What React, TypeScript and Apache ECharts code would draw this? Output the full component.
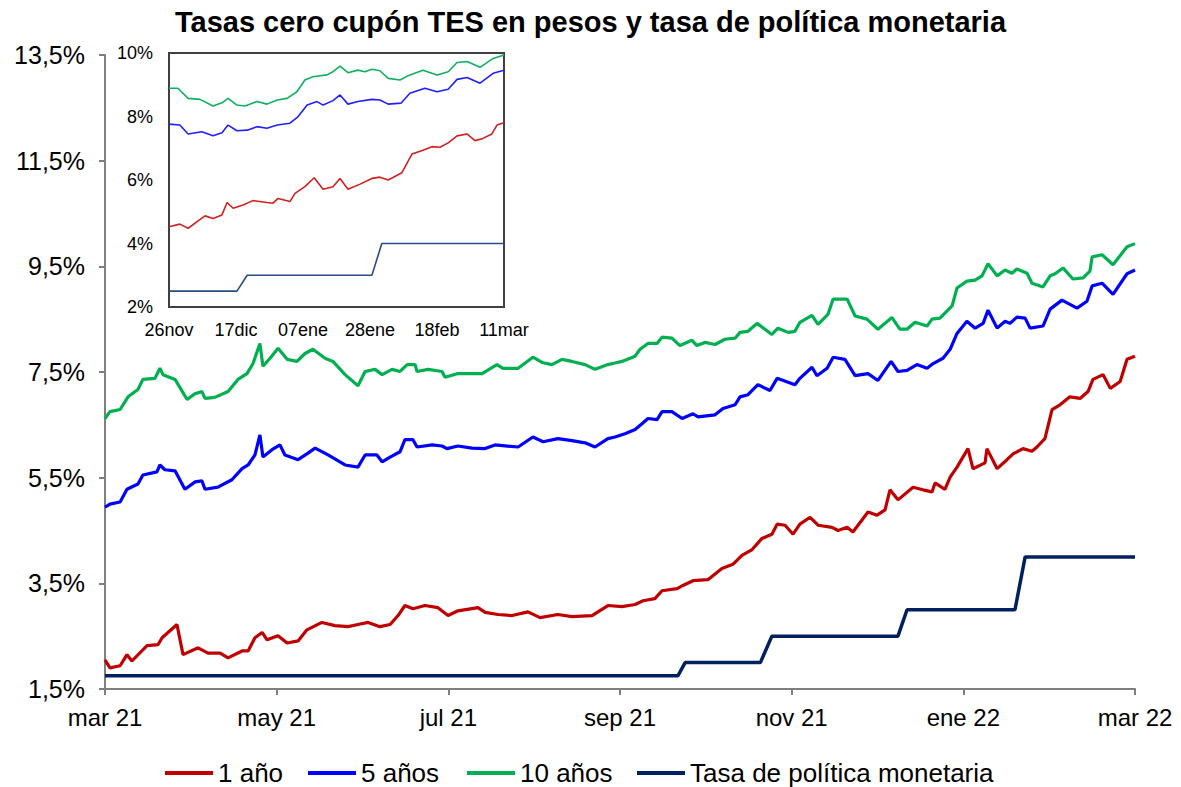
import React, { useEffect, useRef } from "react";
import * as echarts from "echarts";

const FONT = "'Liberation Sans', Arial, sans-serif";

// ---- Main chart: x = days elapsed since 1 Mar 2021 (last obs. 11 Mar 2022) ----
const MAIN_SPAN_DAYS = 375;
const mainTickLabels = ["mar 21", "may 21", "jul 21", "sep 21", "nov 21", "ene 22", "mar 22"];
const yTicks = [1.5, 3.5, 5.5, 7.5, 9.5, 11.5, 13.5];

const tenYearDays = [0,1.8,5.5,8.4,12.0,13.8,18.2,20.0,21.1,25.5,29.9,32.8,35.3,36.4,40.0,44.8,48.4,51.7,53.9,56.4,57.5,60.1,63.0,66.3,69.9,72.8,75.7,80.1,83.0,87.4,92.1,94.7,98.3,100.9,104.5,107.4,110.0,112.9,113.6,117.6,122.7,123.8,128.5,137.3,142.7,144.9,150.4,155.8,159.1,162.7,166.4,170.0,174.8,178.4,183.1,185.7,188.2,193.0,194.8,197.7,201.0,202.8,206.4,209.3,213.7,215.5,218.4,222.1,225.7,229.4,231.2,234.1,237.4,242.8,245.0,248.7,251.2,253.0,257.4,259.6,263.2,265.1,270.2,273.1,277.4,281.4,286.5,289.4,292.0,294.9,299.3,301.1,304.0,308.4,310.2,313.8,316.8,319.3,321.5,324.8,327.7,330.2,332.0,335.7,337.5,341.5,344.1,345.9,348.8,352.4,356.1,358.6,359.4,363.0,367.0,372.1,375.0];
const tenYear = [6.62,6.75,6.79,7.03,7.17,7.36,7.38,7.57,7.45,7.36,6.98,7.09,7.13,7.00,7.02,7.13,7.36,7.47,7.66,8.04,7.61,7.76,7.95,7.74,7.70,7.85,7.93,7.76,7.70,7.45,7.24,7.51,7.55,7.45,7.55,7.51,7.64,7.64,7.51,7.55,7.51,7.40,7.47,7.47,7.64,7.57,7.57,7.78,7.68,7.64,7.74,7.70,7.64,7.55,7.64,7.67,7.70,7.80,7.93,8.04,8.04,8.16,8.14,8.00,8.10,8.00,8.06,8.02,8.12,8.14,8.25,8.27,8.42,8.21,8.33,8.25,8.27,8.44,8.57,8.40,8.59,8.88,8.88,8.56,8.50,8.31,8.53,8.31,8.31,8.44,8.37,8.50,8.52,8.75,9.09,9.22,9.24,9.32,9.55,9.32,9.43,9.37,9.45,9.37,9.18,9.11,9.32,9.36,9.47,9.26,9.28,9.41,9.68,9.72,9.53,9.87,9.93];

const fiveYearDays = [0,1.8,5.5,8.0,12.0,13.8,18.9,20.0,21.8,25.5,29.1,32.8,35.3,36.4,41.1,46.2,49.9,52.1,54.6,56.4,57.5,60.8,63.7,65.5,70.3,73.5,76.5,81.2,87.4,92.1,94.7,99.0,100.9,103.8,107.4,109.2,112.1,113.6,119.1,122.7,124.5,128.5,133.6,138.4,142.0,150.4,155.8,159.5,164.9,170.0,174.8,178.4,183.1,185.7,189.3,193.0,195.5,197.7,201.0,202.8,206.4,210.1,214.1,215.9,222.1,225.0,229.4,231.2,234.1,237.7,242.1,244.7,251.2,253.0,257.4,259.2,262.9,265.1,269.4,273.1,277.8,281.4,286.2,288.7,292.0,295.6,299.3,301.5,305.1,307.7,310.2,313.8,316.8,319.7,321.5,324.8,327.7,329.5,332.0,335.0,336.8,341.5,344.1,348.4,353.9,357.5,359.4,363.0,367.0,372.1,375.0];
const fiveYear = [4.94,5.00,5.04,5.28,5.38,5.55,5.61,5.74,5.65,5.63,5.28,5.42,5.44,5.28,5.32,5.46,5.67,5.74,5.93,6.31,5.89,6.03,6.12,5.93,5.84,5.95,6.06,5.93,5.74,5.70,5.93,5.93,5.80,5.89,5.99,6.22,6.22,6.08,6.12,6.10,6.05,6.10,6.06,6.05,6.12,6.08,6.27,6.18,6.24,6.20,6.16,6.08,6.24,6.27,6.33,6.41,6.52,6.62,6.60,6.75,6.75,6.62,6.71,6.65,6.69,6.81,6.88,7.03,7.07,7.26,7.15,7.38,7.26,7.38,7.59,7.43,7.57,7.78,7.74,7.43,7.47,7.34,7.70,7.51,7.53,7.64,7.57,7.66,7.76,7.93,8.23,8.46,8.33,8.42,8.67,8.33,8.46,8.42,8.54,8.52,8.33,8.37,8.69,8.86,8.71,8.84,9.13,9.18,8.97,9.36,9.43];

const oneYearDays = [0,1.8,5.5,8.0,9.8,15.3,19.3,20.8,26.2,28.4,33.9,37.5,41.9,44.8,49.9,52.1,54.6,57.2,59.0,63.0,66.3,70.3,73.5,79.0,83.7,88.5,92.1,95.8,100.1,103.8,106.7,109.2,112.1,116.5,121.2,124.9,128.5,135.8,138.4,143.1,148.2,154.0,158.4,164.9,170.0,177.3,183.1,188.2,193.0,195.9,200.2,202.8,208.3,210.4,214.1,219.5,224.6,228.6,231.9,235.6,239.2,242.8,244.7,247.6,250.5,253.0,256.7,259.6,264.7,266.9,270.2,272.3,277.8,281.1,284.0,285.8,288.7,294.2,297.8,301.1,302.2,305.8,307.7,310.2,314.2,316.0,320.4,321.1,324.8,328.4,330.6,334.2,337.5,339.3,342.2,344.8,347.7,351.3,355.0,357.9,359.7,363.4,366.0,369.6,372.1,375.0];
const oneYear = [2.05,1.90,1.94,2.15,2.03,2.32,2.34,2.47,2.72,2.15,2.28,2.18,2.18,2.09,2.22,2.22,2.47,2.57,2.43,2.51,2.37,2.41,2.62,2.76,2.70,2.68,2.72,2.76,2.68,2.72,2.89,3.08,3.02,3.08,3.04,2.89,2.98,3.04,2.95,2.91,2.89,2.96,2.85,2.91,2.87,2.89,3.08,3.06,3.10,3.17,3.21,3.36,3.40,3.46,3.55,3.57,3.78,3.86,4.03,4.14,4.35,4.43,4.62,4.60,4.43,4.62,4.75,4.60,4.56,4.50,4.56,4.47,4.85,4.79,4.89,5.27,5.08,5.32,5.27,5.23,5.40,5.28,5.51,5.70,6.05,5.67,5.78,6.05,5.67,5.84,5.95,6.05,6.00,6.08,6.24,6.79,6.88,7.03,7.00,7.13,7.36,7.45,7.19,7.32,7.74,7.80];

const policyDays = [0,208.6,211.2,238.6,242.8,288.7,292.0,331.3,335.0,375.0];
const policyRate = [1.75,1.75,2.0,2.0,2.5,2.5,3.0,3.0,4.0,4.0];

// ---- Inset: x = days elapsed since 26 Nov 2021 ----
const INSET_SPAN_DAYS = 105;
const insetTickDays = [0, 21, 42, 63, 84, 105];
const insetTickLabels = ["26nov", "17dic", "07ene", "28ene", "18feb", "11mar"];

const insetTenDays = [0,2.8,6.0,9.7,13.8,16.6,18.5,21.3,23.8,27.6,30.7,33.9,37.0,40.1,42.6,45.1,49.5,51.4,53.6,56.1,59.2,61.4,63.6,66.1,68.7,72.4,75.5,79.6,84.0,87.5,90.3,93.4,97.5,101.6,105];
const insetTen = [8.89,8.89,8.57,8.54,8.33,8.43,8.57,8.36,8.33,8.47,8.39,8.52,8.57,8.78,9.15,9.25,9.31,9.41,9.59,9.38,9.46,9.41,9.49,9.44,9.20,9.15,9.31,9.46,9.31,9.41,9.70,9.73,9.55,9.83,9.94];
const insetFiveDays = [0,3.4,6.0,10.3,13.8,16.6,18.5,21.3,24.5,27.6,30.7,33.9,37.9,40.4,43.3,46.4,48.3,51.4,53.6,56.1,59.2,63.6,66.1,68.7,72.7,75.5,80.2,84.0,87.5,90.3,93.4,97.5,101.6,105];
const insetFive = [7.76,7.73,7.45,7.52,7.39,7.49,7.73,7.55,7.57,7.68,7.63,7.73,7.79,7.99,8.36,8.47,8.36,8.50,8.68,8.39,8.47,8.54,8.52,8.39,8.42,8.73,8.89,8.78,8.86,9.17,9.23,9.05,9.36,9.46];
const insetOneDays = [0,3.4,6.0,8.8,11.3,13.8,16.6,18.2,20.1,23.2,26.3,30.7,32.6,34.2,37.9,39.5,42.6,45.5,48.3,51.4,53.6,56.1,59.9,63.6,66.1,68.7,73.0,76.2,79.6,82.4,84.9,87.5,90.3,93.4,95.9,98.4,101.2,102.8,105];
const insetOne = [4.53,4.61,4.48,4.69,4.87,4.79,4.90,5.29,5.11,5.21,5.35,5.29,5.27,5.42,5.32,5.58,5.79,6.07,5.71,5.79,6.05,5.71,5.87,6.05,6.09,6.00,6.23,6.82,6.94,7.05,7.03,7.17,7.39,7.45,7.24,7.31,7.45,7.73,7.80];
const insetPolicyDays = [0,21.3,24.5,63.6,66.7,105];
const insetPolicy = [2.5,2.5,3.0,3.0,4.0,4.0];

const seriesNames = ["1 año", "5 años", "10 años", "Tasa de política monetaria"];
const colors = ["#C00000", "#0000FF", "#00B050", "#002060"];
const insetColors = ["#D02020", "#2020FF", "#10B060", "#2A4A8A"];

const toPairs = (days: number[], vals: number[]) => days.map((d, i) => [d, vals[i]]);

export default function App() {
  const ref = useRef<HTMLDivElement>(null);

  useEffect(() => {
    document.body.style.margin = "0";
    document.body.style.overflow = "hidden";
    if (!ref.current) return;
    const chart = echarts.init(ref.current, undefined, { renderer: "svg" });

    // month labels evenly spaced along the axis (as in the source's category axis)
    const mainTickPos = mainTickLabels.map(
      (_, i) => (i * MAIN_SPAN_DAYS) / (mainTickLabels.length - 1)
    );
    const pick = (pos: number[], labels: string[]) => (v: number) => {
      const i = pos.findIndex((p) => Math.abs(p - v) < 0.01);
      return i >= 0 ? labels[i] : "";
    };

    const axisGray = "#7f7f7f";
    const mainData = [
      toPairs(oneYearDays, oneYear),
      toPairs(fiveYearDays, fiveYear),
      toPairs(tenYearDays, tenYear),
      toPairs(policyDays, policyRate),
    ];
    const insetData = [
      toPairs(insetOneDays, insetOne),
      toPairs(insetFiveDays, insetFive),
      toPairs(insetTenDays, insetTen),
      toPairs(insetPolicyDays, insetPolicy),
    ];
    const legendLefts = [160, 303, 462, 632];

    chart.setOption({
      animation: false,
      backgroundColor: "#ffffff",
      title: {
        text: "Tasas cero cupón TES en pesos y tasa de política monetaria",
        left: "center",
        top: 2,
        textStyle: { fontFamily: FONT, fontSize: 29, fontWeight: "bold", color: "#000" },
      },
      legend: seriesNames.map((n, i) => ({
        data: [n],
        left: legendLefts[i],
        top: 755,
        icon: "rect",
        itemWidth: 48,
        itemHeight: 4,
        selectedMode: false,
        textStyle: { fontFamily: FONT, fontSize: 26, color: "#000" },
      })),
      grid: [
        { left: 105, right: 46, top: 55, bottom: 98, containLabel: false },
        {
          left: 169,
          top: 53,
          width: 335,
          height: 254,
          show: true,
          backgroundColor: "#ffffff",
          borderColor: "#404040",
          borderWidth: 2,
          z: 5,
        },
      ],
      xAxis: [
        {
          type: "value",
          gridIndex: 0,
          min: 0,
          max: MAIN_SPAN_DAYS,
          axisLine: { show: true, lineStyle: { color: axisGray, width: 2 } },
          axisTick: { show: true, customValues: mainTickPos, length: 6, lineStyle: { color: axisGray, width: 2 } },
          splitLine: { show: false },
          axisLabel: {
            customValues: mainTickPos,
            formatter: pick(mainTickPos, mainTickLabels),
            fontFamily: FONT,
            fontSize: 24,
            color: "#000",
            margin: 16,
            hideOverlap: false,
          },
        },
        {
          type: "value",
          gridIndex: 1,
          min: 0,
          max: INSET_SPAN_DAYS,
          axisLine: { show: false },
          axisTick: { show: false },
          splitLine: { show: false },
          axisLabel: {
            customValues: insetTickDays,
            formatter: pick(insetTickDays, insetTickLabels),
            fontFamily: FONT,
            fontSize: 18,
            color: "#000",
            margin: 14,
            hideOverlap: false,
          },
        },
      ],
      yAxis: [
        {
          type: "value",
          gridIndex: 0,
          min: 1.5,
          max: 13.5,
          axisLine: { show: true, lineStyle: { color: axisGray, width: 2 } },
          axisTick: { show: true, customValues: yTicks, length: 6, lineStyle: { color: axisGray, width: 2 } },
          splitLine: { show: false },
          axisLabel: {
            customValues: yTicks,
            formatter: (v: number) => v.toFixed(1).replace(".", ",") + "%",
            fontFamily: FONT,
            fontSize: 25,
            color: "#000",
            margin: 20,
          },
        },
        {
          type: "value",
          gridIndex: 1,
          min: 2,
          max: 10,
          interval: 2,
          axisLine: { show: false },
          axisTick: { show: false },
          splitLine: { show: false },
          axisLabel: {
            formatter: (v: number) => v + "%",
            fontFamily: FONT,
            fontSize: 18,
            color: "#000",
            margin: 16,
          },
        },
      ],
      series: [
        ...seriesNames.map((n, i) => ({
          name: n,
          type: "line",
          xAxisIndex: 0,
          yAxisIndex: 0,
          data: mainData[i],
          showSymbol: false,
          symbol: "none",
          lineStyle: { color: colors[i], width: i === 3 ? 3.5 : 3.2 },
          itemStyle: { color: colors[i] },
          z: 3,
        })),
        ...seriesNames.map((n, i) => ({
          name: n,
          type: "line",
          xAxisIndex: 1,
          yAxisIndex: 1,
          data: insetData[i],
          showSymbol: false,
          symbol: "none",
          lineStyle: { color: insetColors[i], width: 1.6 },
          itemStyle: { color: colors[i] },
          z: 6,
        })),
      ],
    });

    return () => chart.dispose();
  }, []);

  return <div ref={ref} style={{ width: 1181, height: 787 }} />;
}
